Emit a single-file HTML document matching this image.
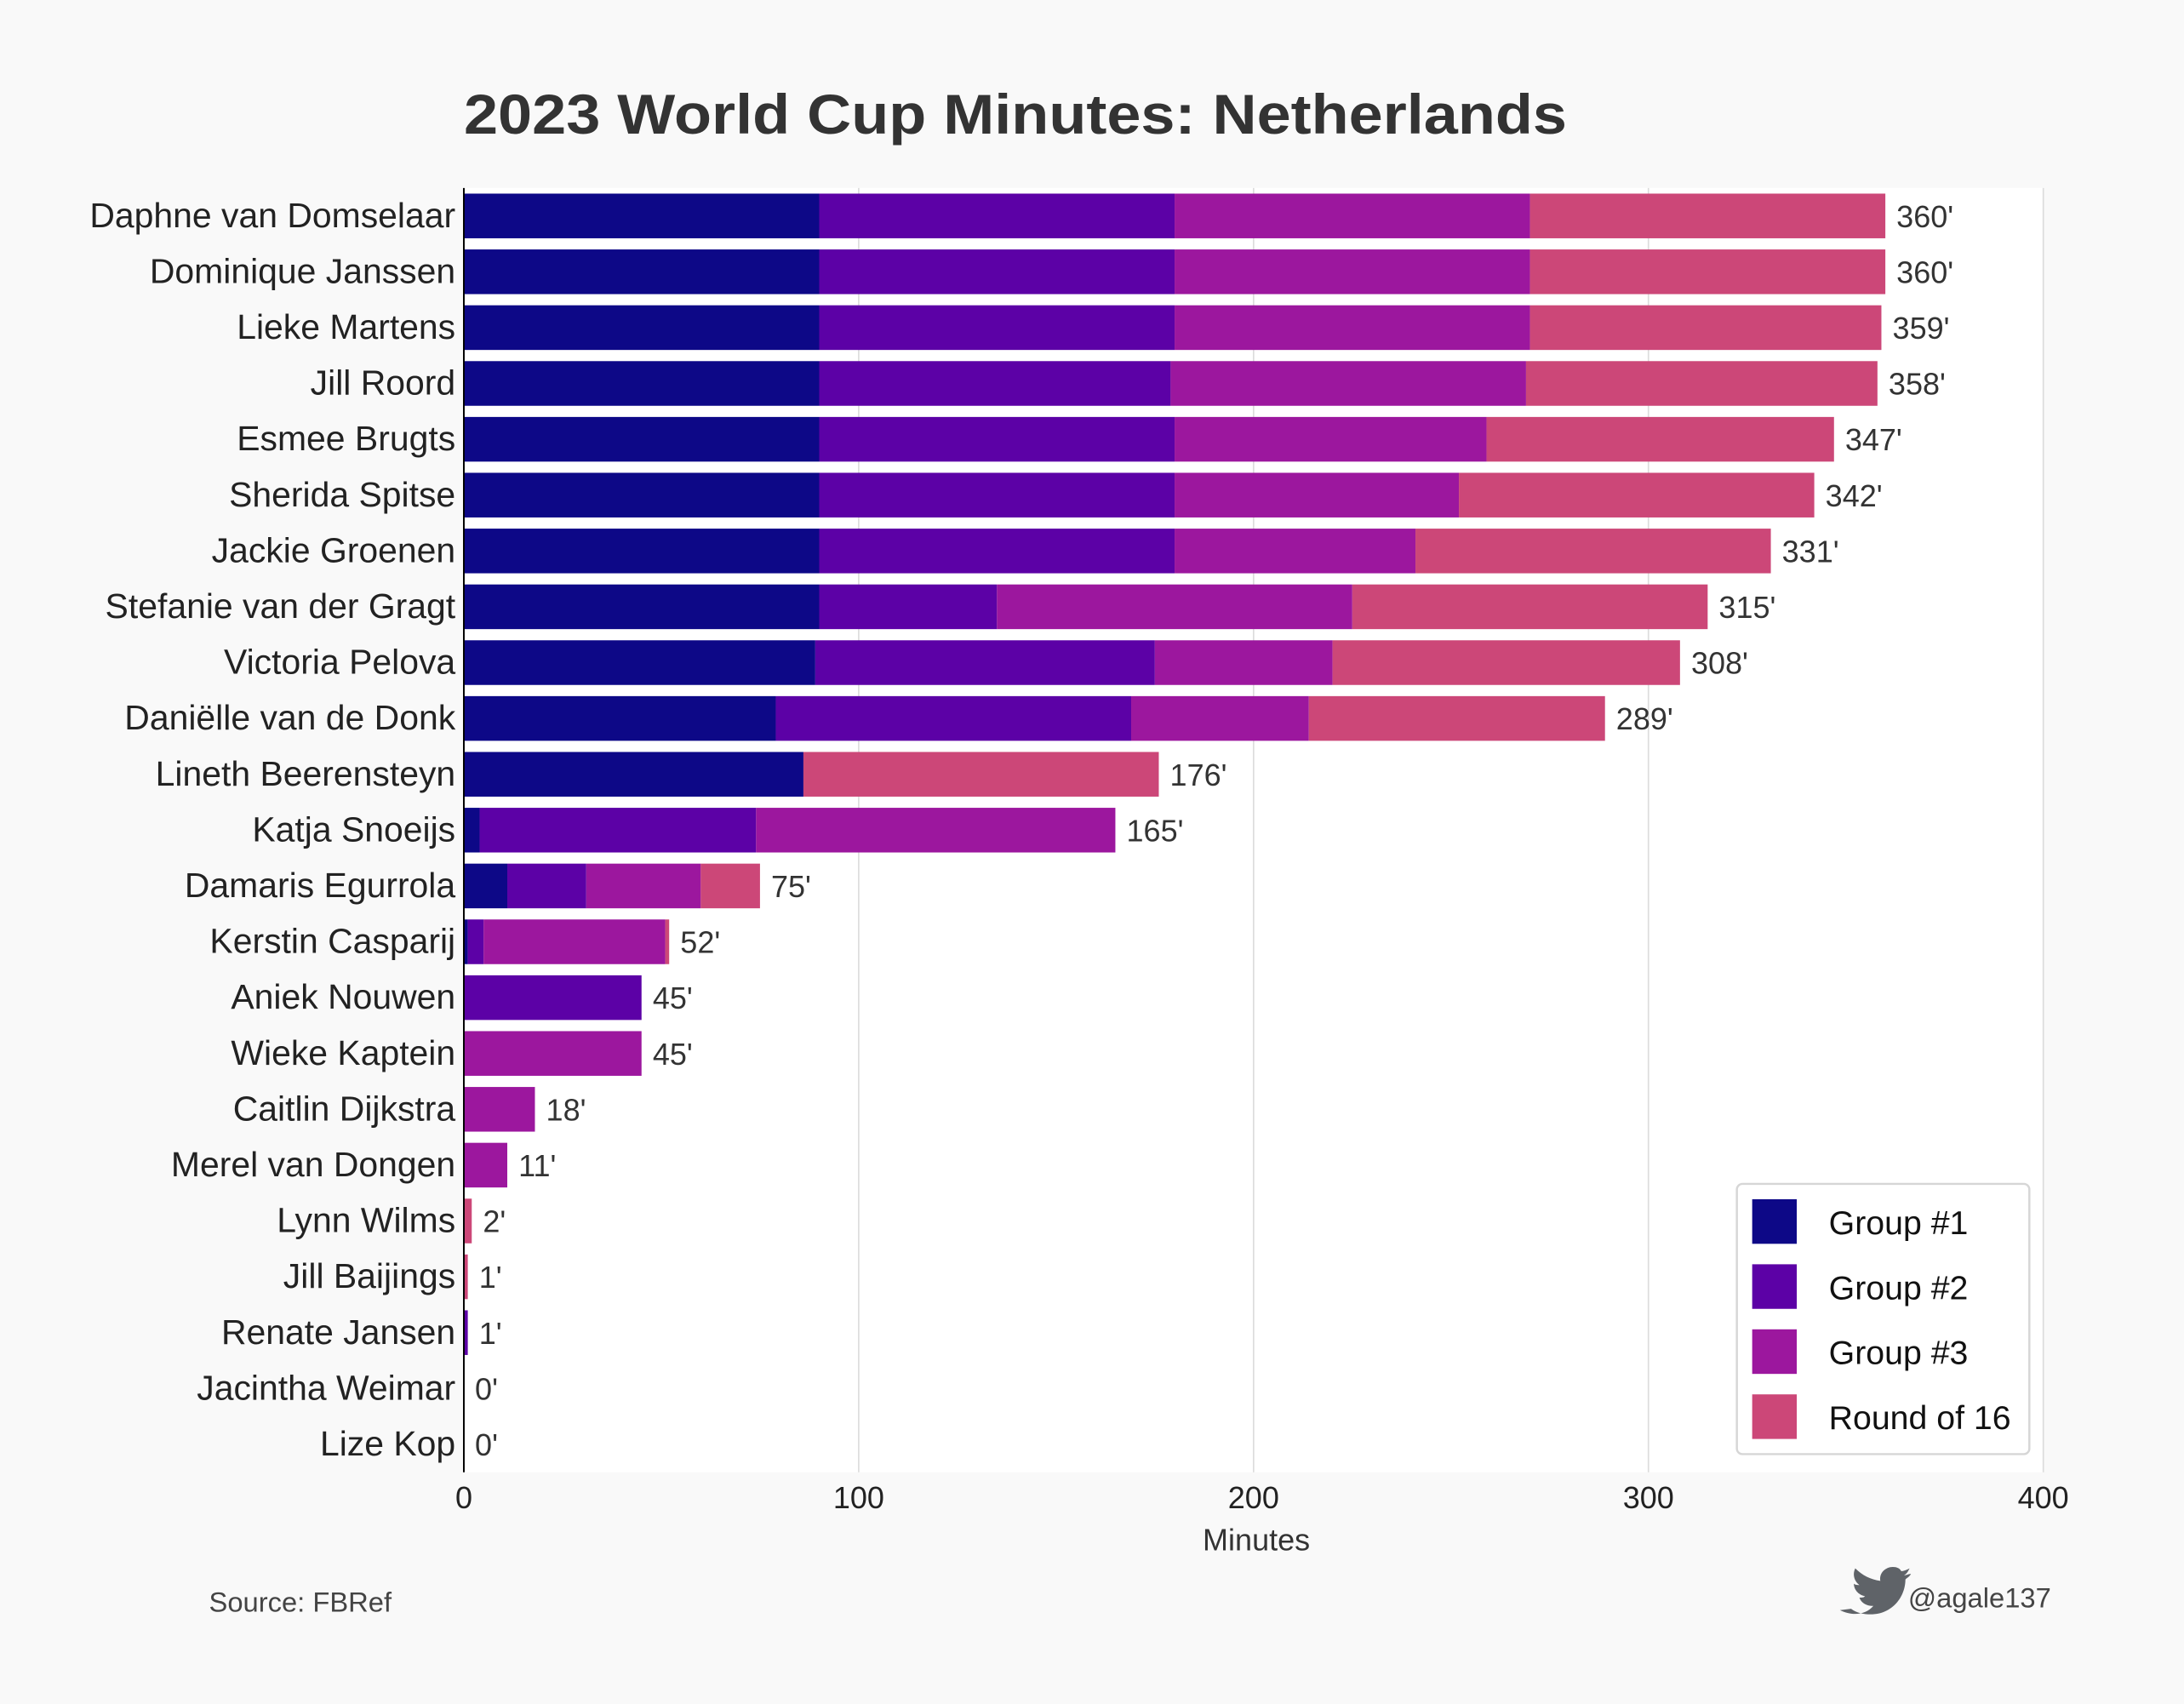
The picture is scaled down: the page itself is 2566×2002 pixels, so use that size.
<!DOCTYPE html>
<html><head><meta charset="utf-8"><style>
html,body{margin:0;padding:0;background:#f9f9f9;}
svg{display:block;font-family:"Liberation Sans",sans-serif;}
</style></head><body>
<svg id="chart" width="2566" height="2002" viewBox="0 0 1568 1223.4" xmlns="http://www.w3.org/2000/svg">
<rect x="0" y="0" width="1568" height="1223.4" fill="#f9f9f9"/>
<text x="333" y="96" font-size="40" font-weight="bold" fill="#333" textLength="792" lengthAdjust="spacingAndGlyphs">2023 World Cup Minutes: Netherlands</text>
<rect x="333" y="135" width="1134" height="922" fill="#ffffff"/>
<g id="grid"></g>
<g id="bars"></g>
<g id="labels"></g>
<line x1="333" y1="135" x2="333" y2="1057" stroke="#000" stroke-width="1.2"/>
<text x="902" y="1113" font-size="22" fill="#333" text-anchor="middle">Minutes</text>
<g>
<rect x="1247" y="850" width="210" height="194" rx="4" fill="#fff" stroke="#d6d6d6" stroke-width="1.5"/>
<g id="legendItems"></g>
</g>
<text x="150" y="1157" font-size="20" fill="#444">Source: FBRef</text>
<g transform="translate(-6,4)">
<path d="M1327,1152 c8,4 18,4 24,-3 c-6,0 -9,-3 -10,-6 c2,0 3,0 4,-1 c-5,-1 -8,-5 -8,-9 c1,1 3,1 4,1 c-4,-3 -5,-8 -3,-12 c5,5 11,8 18,9 c-1,-6 4,-10 9,-10 c3,0 5,1 6,3 c2,0 4,-1 6,-2 c-1,2 -2,4 -4,5 c2,0 3,-1 5,-1 c-1,2 -3,3 -4,4 c0,12 -9,25 -25,25 c-5,0 -10,-1 -14,-4 z" fill="#5f6368"/>
</g>
<text x="1370" y="1154" font-size="20" fill="#444">@agale137</text>
</svg>
<script>
const players = ["Daphne van Domselaar","Dominique Janssen","Lieke Martens","Jill Roord","Esmee Brugts","Sherida Spitse","Jackie Groenen","Stefanie van der Gragt","Victoria Pelova","Daniëlle van de Donk","Lineth Beerensteyn","Katja Snoeijs","Damaris Egurrola","Kerstin Casparij","Aniek Nouwen","Wieke Kaptein","Caitlin Dijkstra","Merel van Dongen","Lynn Wilms","Jill Baijings","Renate Jansen","Jacintha Weimar","Lize Kop"];
const group1 = [90,90,90,90,90,90,90,90,89,79,86,4,11,1,0,0,0,0,0,0,0,0,0];
const group2 = [90,90,90,89,90,90,90,45,86,90,0,70,20,4,45,0,0,0,0,0,1,0,0];
const group3 = [90,90,90,90,79,72,61,90,45,45,0,91,29,46,0,45,18,11,0,0,0,0,0];
const round16 = [90,90,89,89,88,90,90,90,88,75,90,0,15,1,0,0,0,0,2,1,0,0,0];
const seriesNames = ["Group #1","Group #2","Group #3","Round of 16"];
const xTicks = [0,100,200,300,400];

const colors = ["#0d0887","#5c01a6","#9c179e","#cc4778"];
const NS = "http://www.w3.org/2000/svg";
const X0=333, X1=1467, Y0=135, Y1=1057;
const band = (Y1-Y0)/players.length;
function xs(v){return X0 + v*(X1-X0)/400;}
function yb(i){return Y0 + i*band;}
function mk(tag, attrs, parent){const e=document.createElementNS(NS,tag);for(const k in attrs)e.setAttribute(k,attrs[k]);parent.appendChild(e);return e;}
const grid=document.getElementById('grid'), bars=document.getElementById('bars'), labels=document.getElementById('labels');
xTicks.forEach(t=>{
  if(t>0){const l=mk('line',{x1:xs(t),x2:xs(t),y1:Y0,y2:Y1,stroke:'#dcdcdc','stroke-width':1},grid);
  
  }
  const tx=mk('text',{x:xs(t),y:1083,'font-size':22,fill:'#222','text-anchor':'middle'},labels);
  tx.textContent=t;
  
  
});
const series=[group1,group2,group3,round16];
players.forEach((p,i)=>{
  let acc=0;
  const y=yb(i)+band*0.1, h=band*0.8;
  series.forEach((s,k)=>{
    const v=s[i];
    if(v>0){
      const r=mk('rect',{x:xs(acc),y:y,width:xs(acc+v)-xs(acc),height:h,fill:colors[k]},bars);
      
      
    }
    acc+=v;
  });
  const cy=yb(i)+band/2;
  const nm=mk('text',{x:327,y:cy+8,'font-size':25,fill:'#222','text-anchor':'end'},labels);
  nm.textContent=p;
  
  
  const tv=mk('text',{x:xs(acc)+8,y:cy+8,'font-size':22,fill:'#333'},labels);
  tv.textContent=acc+"'";
  
  
});
const li=document.getElementById('legendItems');
seriesNames.forEach((n,k)=>{
  const cy=877+k*46.7;
  const sw=mk('rect',{x:1258,y:cy-16,width:32,height:32,fill:colors[k]},li);
  
  
  const t=mk('text',{x:1313,y:cy+9,'font-size':24,fill:'#111'},li);
  t.textContent=n;
  
  
});
</script>
</body></html>
